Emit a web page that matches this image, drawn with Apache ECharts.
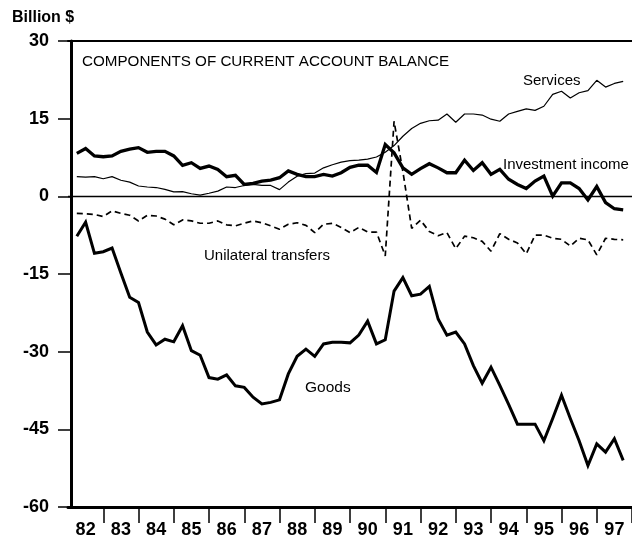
<!DOCTYPE html>
<html>
<head>
<meta charset="utf-8">
<title>Components of Current Account Balance</title>
<script src="https://cdn.jsdelivr.net/npm/echarts@6/dist/echarts.min.js"></script>
<style>
  html, body { margin: 0; padding: 0; background: #fff; }
  #chart { width: 632px; height: 543px; }
</style>
</head>
<body>
<div id="chart"></div>
<script>
// Year labels along the bottom axis (1982 to 1997)
const years = ['82','83','84','85','86','87','88','89','90','91','92','93','94','95','96','97'];

// Value axis ticks, billions of dollars
const yTicks = [-60, -45, -30, -15, 0, 15, 30];

// Quarterly series, 1982Q1 .. 1997Q3 (billion $)
const goods = [
  -7.7, -5.0, -11.0, -10.7, -10.0, -14.8, -19.5, -20.5,
  -26.2, -28.7, -27.6, -28.1, -25.0, -29.8, -30.7, -35.0,
  -35.3, -34.5, -36.6, -36.9, -38.8, -40.1, -39.8, -39.3,
  -34.3, -30.9, -29.5, -30.9, -28.5, -28.2, -28.2, -28.3,
  -26.8, -24.1, -28.5, -27.7, -18.3, -15.7, -19.2, -18.9,
  -17.4, -23.7, -26.8, -26.2, -28.5, -32.7, -36.1, -33.0,
  -36.5, -40.2, -44.0, -44.0, -44.0, -47.2, -42.9, -38.4,
  -42.9, -47.2, -52.0, -47.8, -49.4, -46.8, -51.0
];
const services = [
  3.8, 3.7, 3.8, 3.4, 3.8, 3.1, 2.75, 2.0,
  1.8, 1.7, 1.35, 0.85, 0.9, 0.5, 0.25, 0.6,
  1.0, 1.8, 1.7, 2.1, 2.3, 2.1, 2.1, 1.3,
  2.75, 3.9, 4.4, 4.5, 5.5, 6.1, 6.6, 6.9,
  7.0, 7.2, 7.6, 8.5, 9.8, 11.6, 13.1, 14.1,
  14.6, 14.7, 15.9, 14.3, 15.9, 15.9, 15.7, 14.9,
  14.5, 15.9, 16.4, 16.9, 16.6, 17.4, 19.7, 20.3,
  19.0, 20.0, 20.4, 22.4, 21.1, 21.8, 22.2
];
const investmentIncome = [
  8.3, 9.25, 7.8, 7.65, 7.8, 8.7, 9.1, 9.4,
  8.5, 8.7, 8.7, 7.8, 6.0, 6.5, 5.4, 5.85,
  5.2, 3.8, 4.05, 2.3, 2.5, 2.95, 3.15, 3.6,
  4.9, 4.25, 3.8, 3.8, 4.25, 3.9, 4.55, 5.6,
  6.0, 6.0, 4.6, 10.0, 8.4, 5.5, 4.25, 5.35,
  6.3, 5.5, 4.55, 4.55, 7.0, 5.0, 6.5, 4.25,
  5.2, 3.3, 2.3, 1.5, 2.95, 3.9, 0.05, 2.6,
  2.6, 1.5, -0.7, 1.9, -1.2, -2.4, -2.6
];
const unilateralTransfers = [
  -3.3, -3.35, -3.5, -3.9, -2.8, -3.3, -3.65, -4.75,
  -3.65, -3.8, -4.4, -5.5, -4.55, -4.75, -5.2, -5.2,
  -4.75, -5.5, -5.7, -5.2, -4.75, -5.1, -5.7, -6.35,
  -5.4, -5.1, -5.6, -7.0, -5.4, -5.2, -6.0, -7.0,
  -6.0, -6.9, -6.9, -11.5, 14.5, 4.8, -6.2, -4.6,
  -6.8, -7.6, -7.0, -10.1, -7.7, -8.0, -8.7, -10.6,
  -7.2, -8.3, -9.0, -11.1, -7.5, -7.5, -8.1, -8.3,
  -9.6, -8.1, -8.4, -11.3, -8.1, -8.3, -8.4
];

const FONT = "'Liberation Sans', Arial, Helvetica, sans-serif";

// Each quarterly value sits at the end of its quarter on a 0..64 quarter scale
const toPoints = arr => arr.map((v, i) => [i + 1, v]);

const chart = echarts.init(document.getElementById('chart'), null, { renderer: 'canvas' });

chart.setOption({
  animation: false,
  backgroundColor: '#ffffff',
  grid: { left: 68, right: 0, top: 41, bottom: 36, containLabel: false },
  xAxis: [
    {
      // year labels centred in each year, ticks on the year boundaries
      type: 'category',
      data: years,
      boundaryGap: true,
      position: 'bottom',
      axisLine: { show: true, onZero: false, lineStyle: { color: '#000', width: 3 } },
      axisTick: {
        show: true, inside: false, length: 16,
        interval: (index) => index > 0,
        lineStyle: { color: '#000', width: 1.5 }
      },
      axisLabel: { color: '#000', fontFamily: FONT, fontSize: 18, fontWeight: 'bold', margin: 14, interval: 0 },
      splitLine: { show: false }
    },
    {
      // quarterly scale for the data; its line forms the top frame
      type: 'value',
      min: 0,
      max: 64,
      position: 'top',
      axisLine: { show: true, onZero: false, lineStyle: { color: '#000', width: 2 } },
      axisTick: { show: false },
      axisLabel: { show: false },
      splitLine: { show: false }
    }
  ],
  yAxis: {
    type: 'value',
    min: yTicks[0],
    max: yTicks[yTicks.length - 1],
    interval: 15,
    offset: -3,
    axisLine: { show: true, onZero: false, lineStyle: { color: '#000', width: 3 } },
    axisTick: { show: true, inside: false, length: 13, lineStyle: { color: '#000', width: 1.5 } },
    axisLabel: { color: '#000', fontFamily: FONT, fontSize: 18, fontWeight: 'bold', margin: 22 },
    splitLine: { show: false }
  },
  graphic: [
    { type: 'text', left: 12, top: 10,
      style: { text: 'Billion $', font: "bold 16px " + FONT, fill: '#000' } },
    { type: 'text', left: 82, top: 54,
      style: { text: 'COMPONENTS OF CURRENT ACCOUNT BALANCE', font: "15.2px " + FONT, fill: '#000' } },
    { type: 'text', left: 523, top: 73,
      style: { text: 'Services', font: "15px " + FONT, fill: '#000' } },
    { type: 'text', left: 503, top: 157,
      style: { text: 'Investment income', font: "15px " + FONT, fill: '#000' } },
    { type: 'text', left: 204, top: 248,
      style: { text: 'Unilateral transfers', font: "15px " + FONT, fill: '#000' } },
    { type: 'text', left: 305, top: 380,
      style: { text: 'Goods', font: "15.5px " + FONT, fill: '#000' } }
  ],
  series: [
    {
      name: 'Services',
      type: 'line',
      xAxisIndex: 1,
      data: toPoints(services),
      showSymbol: false,
      lineStyle: { color: '#000', width: 1.2 },
      markLine: {
        silent: true,
        symbol: ['none', 'none'],
        label: { show: false },
        lineStyle: { color: '#000', width: 1.3, type: 'solid' },
        data: [{ yAxis: 0 }]
      }
    },
    {
      name: 'Investment income',
      type: 'line',
      xAxisIndex: 1,
      data: toPoints(investmentIncome),
      showSymbol: false,
      lineStyle: { color: '#000', width: 3.3, join: 'miter' }
    },
    {
      name: 'Unilateral transfers',
      type: 'line',
      xAxisIndex: 1,
      data: toPoints(unilateralTransfers),
      showSymbol: false,
      lineStyle: { color: '#000', width: 1.7, type: [6, 4] }
    },
    {
      name: 'Goods',
      type: 'line',
      xAxisIndex: 1,
      data: toPoints(goods),
      showSymbol: false,
      lineStyle: { color: '#000', width: 3, join: 'miter' }
    }
  ]
});
</script>
</body>
</html>
